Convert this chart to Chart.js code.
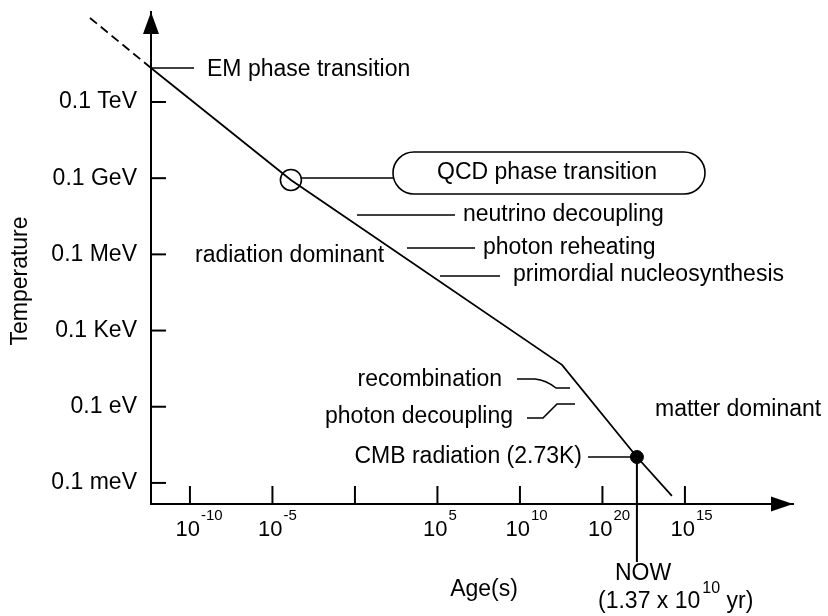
<!DOCTYPE html>
<html>
<head>
<meta charset="utf-8">
<script src="https://cdn.jsdelivr.net/npm/chart.js@4.4.0/dist/chart.umd.min.js"></script>
<style>
  html, body { margin: 0; padding: 0; background: #fff; }
</style>
</head>
<body>
<canvas id="myChart" width="828" height="616"></canvas>
<script>
// log10(age / s) and log10(temperature / eV)
const ageLog = [-12.36, -3.88, 12.55, 17.09, 19.21];
const tempLog = [12.34, 7.93, 0.65, -2.98, -4.51];
// dashed part before the EM phase transition
const earlyAgeLog = [-16.06, -12.36];
const earlyTempLog = [14.31, 12.34];
// markers on the curve: QCD transition (open) and today (filled)
const qcdIndex = 1;
const nowIndex = 3;

const yTickVals = [11, 8, 5, 2, -1, -4];
const yTickLabels = ["0.1 TeV", "0.1 GeV", "0.1 MeV", "0.1 KeV", "0.1 eV", "0.1 meV"];
const xTickVals = [-10, -5, 0, 5, 10, 15, 20];
const xTickExps = ["-10", "-5", "", "5", "10", "20", "15"]; // as printed in the original

const FONT = '"Liberation Sans", Arial, sans-serif';
Chart.defaults.font.family = FONT;
Chart.defaults.color = "#000";

const toPoints = (xs, ys) => xs.map((x, i) => ({ x: x, y: ys[i] }));

const line = (ctx, x1, y1, x2, y2) => {
    ctx.beginPath();
    ctx.moveTo(x1, y1);
    ctx.lineTo(x2, y2);
    ctx.stroke();
};

const text = (ctx, str, x, y, align = "left", size = 23) => {
    ctx.font = `${size}px ${FONT}`;
    ctx.textAlign = align;
    ctx.textBaseline = "middle";
    ctx.fillText(str, x, y);
};

const extras = {
    id: "extras",
    afterDraw(chart) {
        const ctx = chart.ctx;
        const xs = chart.scales.x;
        const ys = chart.scales.y;
        const area = chart.chartArea;
        ctx.save();
        ctx.strokeStyle = "#000";
        ctx.fillStyle = "#000";

        // inward tick marks
        ctx.lineWidth = 2;
        yTickVals.forEach((v) => {
            const py = ys.getPixelForValue(v);
            line(ctx, area.left, py, area.left + 15, py);
        });
        xTickVals.forEach((v) => {
            const px = xs.getPixelForValue(v);
            line(ctx, px, area.bottom, px, area.bottom - 18);
        });

        // arrow heads
        ctx.beginPath();
        ctx.moveTo(area.left, area.top);
        ctx.lineTo(area.left - 8, area.top + 22);
        ctx.lineTo(area.left + 8, area.top + 22);
        ctx.closePath();
        ctx.fill();
        ctx.beginPath();
        ctx.moveTo(area.right, area.bottom);
        ctx.lineTo(area.right - 22, area.bottom - 7.5);
        ctx.lineTo(area.right - 22, area.bottom + 7.5);
        ctx.closePath();
        ctx.fill();

        // x tick labels 10^n
        xTickVals.forEach((v, i) => {
            if (!xTickExps[i]) return;
            const px = xs.getPixelForValue(v);
            text(ctx, "10", px + 10, 530, "right", 22);
            text(ctx, xTickExps[i], px + 11, 516, "left", 15);
        });

        // axis titles
        ctx.save();
        ctx.translate(21, 281);
        ctx.rotate(-Math.PI / 2);
        text(ctx, "Temperature", 0, 0, "center");
        ctx.restore();
        text(ctx, "Age(s)", 484, 590, "center");

        // leader lines
        ctx.lineWidth = 1.6;
        const emY = ys.getPixelForValue(tempLog[0]);
        line(ctx, area.left, emY, 194, emY);
        const qx = xs.getPixelForValue(ageLog[qcdIndex]);
        line(ctx, qx + 10.5, 178, 393, 178);
        line(ctx, 357, 215, 455, 215);
        line(ctx, 407, 248, 475, 248);
        line(ctx, 440, 276, 500, 276);
        ctx.beginPath();
        ctx.moveTo(517, 379);
        ctx.lineTo(535, 379);
        ctx.quadraticCurveTo(546, 380, 556, 388);
        ctx.lineTo(570, 388);
        ctx.stroke();
        ctx.beginPath();
        ctx.moveTo(527, 418);
        ctx.lineTo(543, 418);
        ctx.lineTo(557, 404);
        ctx.lineTo(575, 404);
        ctx.stroke();
        const nx = xs.getPixelForValue(ageLog[nowIndex]);
        const ny = ys.getPixelForValue(tempLog[nowIndex]);
        line(ctx, 588, ny, nx, ny);
        ctx.lineWidth = 2;
        line(ctx, nx, ny, nx, 562);

        // rounded box around QCD label
        ctx.lineWidth = 1.6;
        const bx = 393, by = 152, bw = 312, bh = 42, r = 21;
        ctx.beginPath();
        ctx.moveTo(bx + r, by);
        ctx.lineTo(bx + bw - r, by);
        ctx.arc(bx + bw - r, by + r, r, -Math.PI / 2, Math.PI / 2);
        ctx.lineTo(bx + r, by + bh);
        ctx.arc(bx + r, by + r, r, Math.PI / 2, Math.PI * 1.5);
        ctx.closePath();
        ctx.stroke();

        // labels
        text(ctx, "EM phase transition", 207, 70);
        text(ctx, "QCD phase transition", 547, 173, "center");
        text(ctx, "neutrino decoupling", 463, 215);
        text(ctx, "photon reheating", 483, 248);
        text(ctx, "primordial nucleosynthesis", 513, 275);
        text(ctx, "radiation dominant", 195, 256);
        text(ctx, "recombination", 502, 380, "right");
        text(ctx, "photon decoupling", 513, 417, "right");
        text(ctx, "CMB radiation (2.73K)", 582, 457, "right");
        text(ctx, "matter dominant", 655, 410);
        text(ctx, "NOW", 643, 574, "center");

        // (1.37 x 10^10 yr)
        ctx.font = `23px ${FONT}`;
        let cx = 598;
        text(ctx, "(1.37 x 10", cx, 602);
        cx += ctx.measureText("(1.37 x 10").width + 2;
        text(ctx, "10", cx, 589, "left", 16);
        ctx.font = `16px ${FONT}`;
        cx += ctx.measureText("10").width;
        text(ctx, " yr)", cx, 602);

        ctx.restore();
    },
};

const ctx = document.getElementById("myChart").getContext("2d");

const myChart = new Chart(ctx, {
    type: "scatter",
    data: {
        datasets: [
            {
                data: toPoints(earlyAgeLog, earlyTempLog),
                showLine: true,
                borderColor: "#000",
                borderWidth: 1.8,
                borderDash: [9, 5],
                pointRadius: 0,
                clip: false,
            },
            {
                data: toPoints(ageLog, tempLog),
                showLine: true,
                borderColor: "#000",
                borderWidth: 1.8,
                pointRadius: 0,
                clip: false,
            },
            {
                data: [{ x: ageLog[qcdIndex], y: tempLog[qcdIndex] }],
                pointRadius: 10.5,
                pointBorderWidth: 1.6,
                pointBorderColor: "#000",
                pointBackgroundColor: "rgba(0,0,0,0)",
            },
            {
                data: [{ x: ageLog[nowIndex], y: tempLog[nowIndex] }],
                pointRadius: 6.5,
                pointBorderWidth: 1,
                pointBorderColor: "#000",
                pointBackgroundColor: "#000",
            },
        ],
    },
    options: {
        responsive: false,
        animation: false,
        layout: { padding: { top: 12, right: 35, left: 0, bottom: 0 } },
        plugins: {
            legend: { display: false },
            tooltip: { enabled: false },
        },
        scales: {
            x: {
                type: "linear",
                min: -12.36,
                max: 26.55,
                grid: { display: false, drawTicks: false },
                border: { display: true, color: "#000", width: 2 },
                ticks: { display: false },
                afterFit: (scale) => {
                    scale.height = 112;
                    scale.paddingLeft = 0;
                    scale.paddingRight = 0;
                },
            },
            y: {
                type: "linear",
                min: -4.83,
                max: 14.54,
                grid: { display: false, drawTicks: false },
                border: { display: true, color: "#000", width: 2 },
                afterBuildTicks: (scale) => {
                    scale.ticks = yTickVals.map((v) => ({ value: v }));
                },
                ticks: {
                    color: "#000",
                    padding: 14,
                    font: { size: 23 },
                    callback: (value, index) => yTickLabels[index],
                },
                afterFit: (scale) => {
                    scale.width = 151;
                    scale.paddingTop = 0;
                    scale.paddingBottom = 0;
                },
            },
        },
    },
    plugins: [extras],
});
</script>
</body>
</html>
